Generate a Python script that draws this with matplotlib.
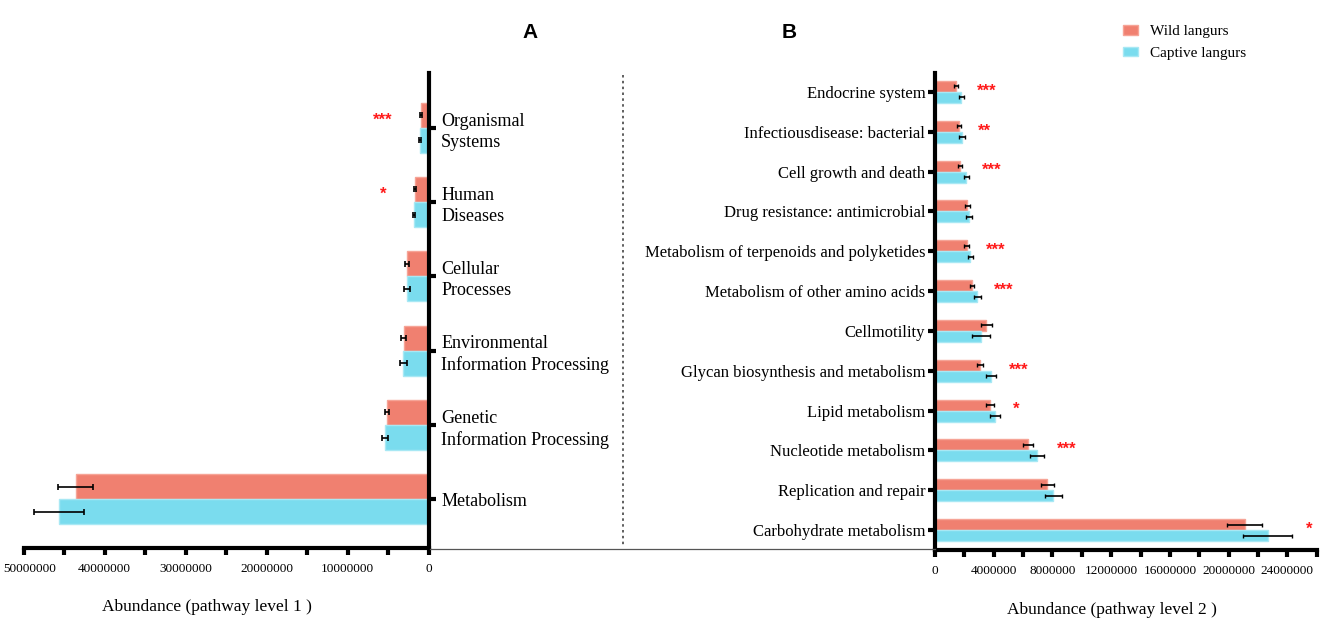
import matplotlib
matplotlib.use("Agg")
import matplotlib.pyplot as plt
from matplotlib.ticker import MultipleLocator, FuncFormatter
from matplotlib.lines import Line2D
from matplotlib.patches import Patch
from matplotlib.transforms import ScaledTranslation
import numpy as np

plt.rcParams['font.family'] = ['Liberation Serif', 'DejaVu Serif']

# ---------------- data (top to bottom as displayed) ----------------
l1_categories = ["Organismal\nSystems", "Human\nDiseases", "Cellular\nProcesses",
                 "Environmental\nInformation Processing", "Genetic\nInformation Processing",
                 "Metabolism"]
l1_wild = [0.96e6, 1.67e6, 2.63e6, 3.08e6, 5.15e6, 43.6e6]
l1_wild_err = [0.10e6, 0.15e6, 0.25e6, 0.30e6, 0.25e6, 2.2e6]
l1_captive = [1.06e6, 1.82e6, 2.63e6, 3.10e6, 5.35e6, 45.6e6]
l1_captive_err = [0.10e6, 0.15e6, 0.35e6, 0.45e6, 0.35e6, 3.1e6]
l1_signif = ["***", "*", "", "", "", ""]

l2_categories = ["Endocrine system", "Infectiousdisease: bacterial", "Cell growth and death",
                 "Drug resistance: antimicrobial", "Metabolism of terpenoids and polyketides",
                 "Metabolism of other amino acids", "Cellmotility",
                 "Glycan biosynthesis and metabolism", "Lipid metabolism",
                 "Nucleotide metabolism", "Replication and repair", "Carbohydrate metabolism"]
l2_wild = [1.43e6, 1.66e6, 1.71e6, 2.20e6, 2.16e6, 2.53e6, 3.50e6, 3.07e6, 3.75e6, 6.35e6, 7.65e6, 21.1e6]
l2_wild_err = [0.15e6, 0.13e6, 0.13e6, 0.19e6, 0.16e6, 0.16e6, 0.37e6, 0.23e6, 0.27e6, 0.34e6, 0.43e6, 1.2e6]
l2_captive = [1.80e6, 1.85e6, 2.14e6, 2.32e6, 2.39e6, 2.89e6, 3.14e6, 3.79e6, 4.08e6, 6.96e6, 8.04e6, 22.65e6]
l2_captive_err = [0.19e6, 0.19e6, 0.19e6, 0.19e6, 0.17e6, 0.21e6, 0.64e6, 0.34e6, 0.34e6, 0.48e6, 0.58e6, 1.7e6]
l2_signif = ["***", "**", "***", "", "***", "***", "", "***", "*", "***", "", "*"]

series_names = ["Wild langurs", "Captive langurs"]

WILD = "#F08070"
WILD_EDGE = "#F6A497"
CAPT = "#7ADCEE"
CAPT_EDGE = "#A8E8F4"
STAR = "#FF1A1A"

fig = plt.figure(figsize=(13.25, 6.2), dpi=100)
W, H = 1325, 620

def px_axes(x0, x1, ytop, ybot):
    return fig.add_axes([x0 / W, (H - ybot) / H, (x1 - x0) / W, (ybot - ytop) / H])

intfmt = FuncFormatter(lambda v, p: f"{int(round(v))}")
star_font = dict(color=STAR, fontsize=12, fontweight='bold', family='Liberation Sans')

# ---------------- panel A ----------------
axA = px_axes(23.7, 428.6, 72.7, 548)
n1 = len(l1_categories)
yA = np.arange(n1)[::-1].astype(float)
hA = 0.337
axA.barh(yA + hA / 2, l1_wild, height=hA, color=WILD, edgecolor=WILD_EDGE, linewidth=1)
axA.barh(yA - hA / 2, l1_captive, height=hA, color=CAPT, edgecolor=CAPT_EDGE, linewidth=1)
axA.errorbar(l1_wild, yA + hA / 2, xerr=l1_wild_err, fmt='none', ecolor='black',
             elinewidth=1.2, capsize=2, capthick=1.2)
axA.errorbar(l1_captive, yA - hA / 2, xerr=l1_captive_err, fmt='none', ecolor='black',
             elinewidth=1.2, capsize=2, capthick=1.2)
for i, s in enumerate(l1_signif):
    if s:
        xm = max(l1_wild[i] + l1_wild_err[i], l1_captive[i] + l1_captive_err[i])
        axA.annotate(s, (xm, yA[i] + 0.1), xytext=(-19, 0), textcoords='offset points',
                     ha='right', va='center', **star_font)
axA.set_xlim(50e6, 0)
axA.set_ylim(-0.655, 5.74)
axA.yaxis.tick_right()
axA.set_yticks(yA)
axA.set_yticklabels(l1_categories, fontsize=13, ha='left', linespacing=1.3)
axA.xaxis.set_major_locator(MultipleLocator(10e6))
axA.xaxis.set_minor_locator(MultipleLocator(5e6))
axA.xaxis.set_major_formatter(intfmt)
for sp in ['left', 'top']:
    axA.spines[sp].set_visible(False)
for sp in ['right', 'bottom']:
    axA.spines[sp].set_linewidth(3)
axA.tick_params(axis='y', which='both', length=5, width=3, pad=4, direction='out')
axA.tick_params(axis='x', which='both', length=5, width=3, pad=6, labelsize=9.5, direction='out')
axA.set_xlabel("Abundance (pathway level 1 )", fontsize=12.5)
axA.xaxis.set_label_coords(0.453, -0.108)

# ---------------- panel B ----------------
axB = px_axes(935, 1316.7, 72.7, 550)
n2 = len(l2_categories)
yB = np.arange(n2)[::-1].astype(float)
hB = 0.276
axB.barh(yB + hB / 2, l2_wild, height=hB, color=WILD, edgecolor=WILD_EDGE, linewidth=1,
         label=series_names[0])
axB.barh(yB - hB / 2, l2_captive, height=hB, color=CAPT, edgecolor=CAPT_EDGE, linewidth=1,
         label=series_names[1])
axB.errorbar(l2_wild, yB + hB / 2, xerr=l2_wild_err, fmt='none', ecolor='black',
             elinewidth=1.2, capsize=1.5, capthick=1.0)
axB.errorbar(l2_captive, yB - hB / 2, xerr=l2_captive_err, fmt='none', ecolor='black',
             elinewidth=1.2, capsize=1.5, capthick=1.0)
for i, s in enumerate(l2_signif):
    if s:
        xm = max(l2_wild[i] + l2_wild_err[i], l2_captive[i] + l2_captive_err[i])
        axB.annotate(s, (xm, yB[i] + 0.02), xytext=(9.5, 0), textcoords='offset points',
                     ha='left', va='center', **star_font)
axB.set_xlim(0, 26e6)
axB.set_ylim(-0.5, 11.48)
axB.set_yticks(yB)
axB.set_yticklabels(l2_categories, fontsize=12)
axB.xaxis.set_major_locator(MultipleLocator(4e6))
axB.xaxis.set_minor_locator(MultipleLocator(2e6))
axB.xaxis.set_major_formatter(intfmt)
for sp in ['right', 'top']:
    axB.spines[sp].set_visible(False)
for sp in ['left', 'bottom']:
    axB.spines[sp].set_linewidth(3)
axB.tick_params(axis='y', which='both', length=5, width=3, pad=2, direction='out')
axB.tick_params(axis='x', which='both', length=5, width=3, pad=6, labelsize=9.5, direction='out')
axB.set_xlabel("Abundance (pathway level 2 )", fontsize=12.5)
axB.xaxis.set_label_coords(0.464, -0.108)

# keep the outermost left tick label inside the figure, as in the reference
fig.canvas.draw()
for lab in axA.get_xticklabels():
    if lab.get_text() == "50000000":
        lab.set_transform(lab.get_transform() + ScaledTranslation(6 / 100, 0, fig.dpi_scale_trans))

# ---------------- decorations ----------------
fig.add_artist(Line2D([430 / W, 935 / W], [(H - 549) / H] * 2, color='#555555', linewidth=0.9))
fig.add_artist(Line2D([622.7 / W] * 2, [(H - 75) / H, (H - 545) / H], color='#444444',
                      linewidth=1.2, linestyle=(0, (1.5, 2))))
fig.text(530 / W, (H - 33) / H, "A", fontsize=15, fontweight='bold', family='Liberation Sans',
         ha='center', va='center')
fig.text(789 / W, (H - 33) / H, "B", fontsize=15, fontweight='bold', family='Liberation Sans',
         ha='center', va='center')

handles = [Patch(facecolor=WILD, edgecolor=WILD_EDGE), Patch(facecolor=CAPT, edgecolor=CAPT_EDGE)]
fig.legend(handles, series_names, loc='upper left', bbox_to_anchor=(1117 / W, (H - 19) / H),
           frameon=False, fontsize=11, handlelength=1.0, handleheight=0.6, handletextpad=0.75,
           labelspacing=0.55, borderaxespad=0)

fig.savefig("out.png", dpi=100)
